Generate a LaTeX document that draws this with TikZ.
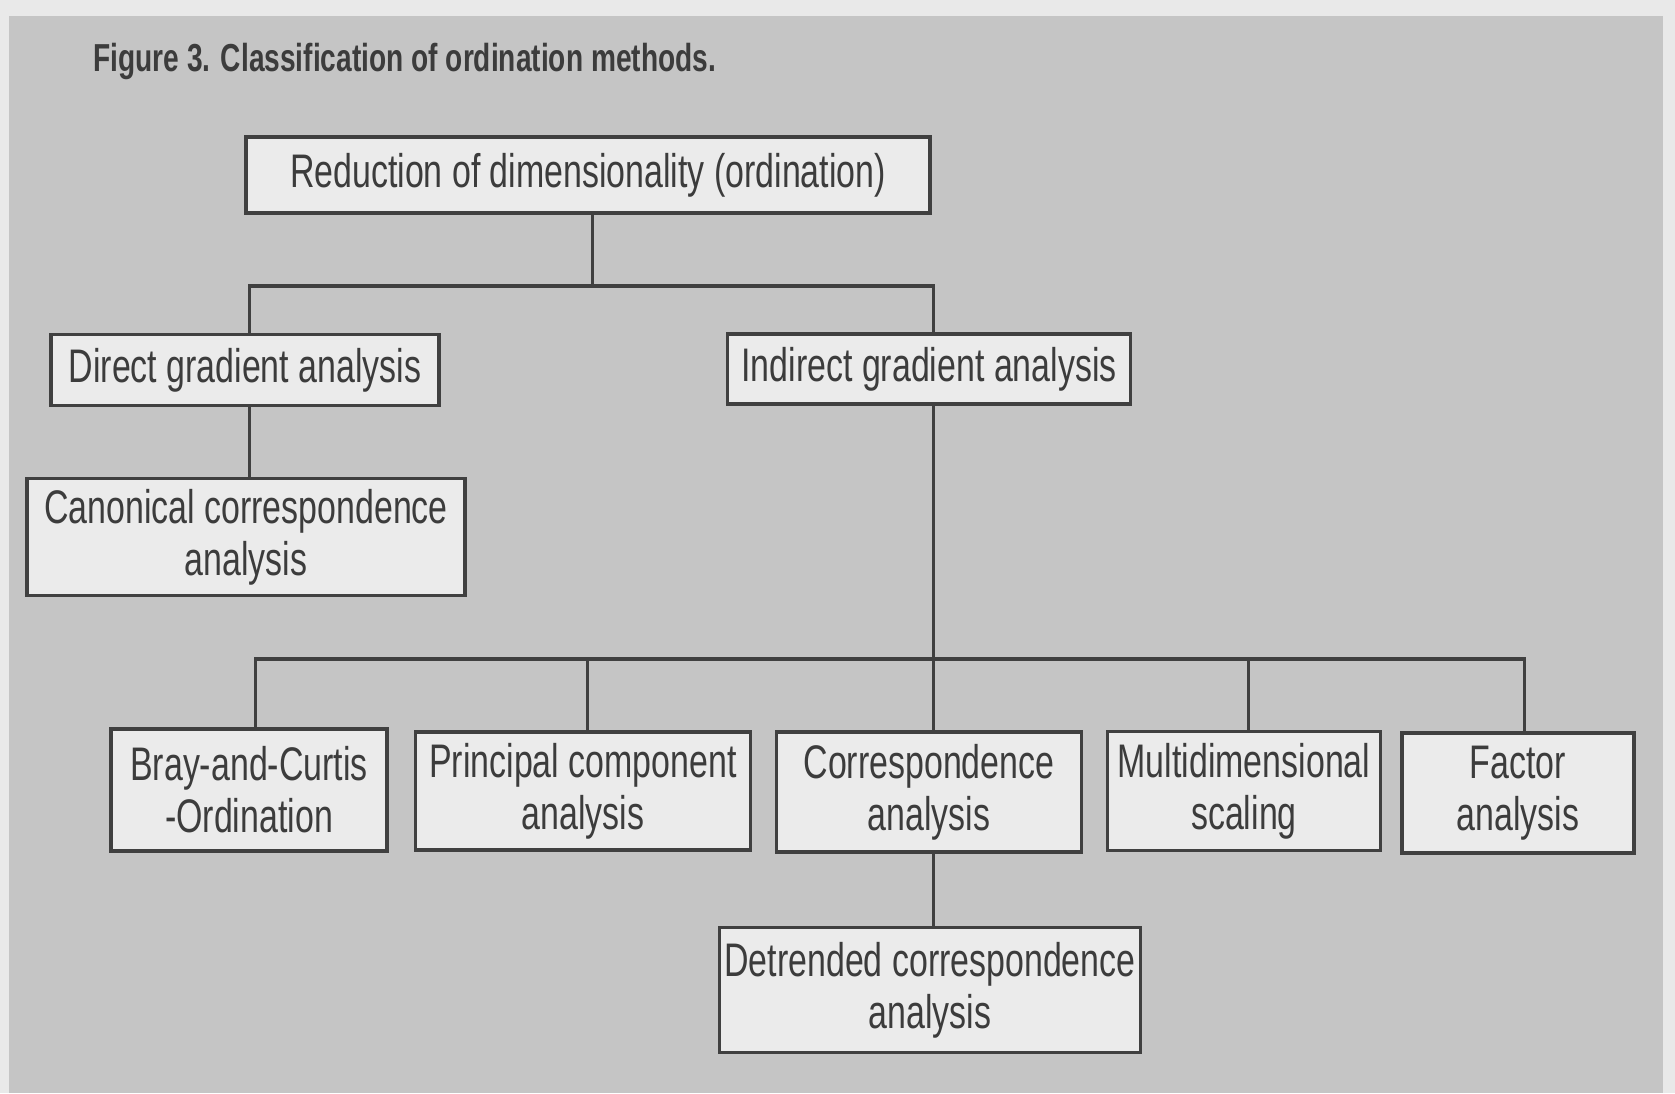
\documentclass[tikz,border=0pt]{standalone}
\usepackage{fontspec}
\setmainfont[FakeStretch=0.72]{Liberation Sans}
\usepackage{tikz}

\definecolor{paper}{HTML}{E9E9E9}
\definecolor{panel}{HTML}{C5C5C5}
\definecolor{boxfill}{HTML}{EBEBEB}
\definecolor{linegray}{HTML}{404040}
\definecolor{textgray}{HTML}{3C3C3C}

\begin{document}
\begin{tikzpicture}[x=0.01cm, y=-0.01cm,
    box/.style={draw=linegray, fill=boxfill, line width=1.05pt, inner sep=0pt,
        align=center, text=textgray, font=\fontsize{13.4}{14.8}\selectfont},
    link/.style={draw=linegray, line width=0.9pt}]
    % paper and grey panel
    \fill[paper] (0,0) rectangle (1675,1093);
    \fill[panel] (9,16) rectangle (1663,1093);
    \useasboundingbox (0,0) rectangle (1675,1093);

    % caption
    \node[anchor=west, text=textgray, font=\fontsize{11.1}{13}\selectfont\bfseries] (title) at (81,61)
        {Figure 3. Classification of ordination methods.};

    % top level
    \node[box, minimum width=6.83cm, minimum height=0.76cm] (root) at (588,175)
        {Reduction of dimensionality (ordination)};

    % second level
    \node[box, minimum width=3.88cm, minimum height=0.71cm] (direct) at (245,370)
        {Direct gradient analysis};
    \node[box, minimum width=4.03cm, minimum height=0.70cm] (indirect) at (929,369)
        {Indirect gradient analysis};
    \node[box, minimum width=4.38cm, minimum height=1.17cm] (canon) at (246,537)
        {Canonical correspondence\\analysis};

    % indirect methods
    \node[box, minimum width=2.76cm, minimum height=1.22cm] (bray) at (249,790)
        {Bray-and-Curtis\\-Ordination};
    \node[box, minimum width=3.35cm, minimum height=1.18cm] (pca) at (583,791)
        {Principal component\\analysis};
    \node[box, minimum width=3.05cm, minimum height=1.20cm] (corr) at (929,792)
        {Correspondence\\analysis};
    \node[box, minimum width=2.73cm, minimum height=1.19cm] (mds) at (1244,791)
        {Multidimensional\\scaling};
    \node[box, minimum width=2.32cm, minimum height=1.20cm] (factor) at (1518,793)
        {Factor\\analysis};
    \node[box, minimum width=4.21cm, minimum height=1.25cm] (detr) at (930,990)
        {Detrended correspondence\\analysis};

    % junctions (lines sit a little right of the box centres)
    \coordinate (bus1) at ([xshift=1.3pt]root.south |- 0,286);
    \coordinate (bus2) at ([xshift=1.3pt]corr.north |- 0,659);

    % connectors
    \draw[link] ([xshift=1.3pt]root.south) -- (bus1);
    \draw[link] ([xshift=1.3pt]direct.north) |- (bus1) -| ([xshift=1.3pt]indirect.north);
    \draw[link] ([xshift=1.3pt]direct.south) -- ([xshift=1.3pt]direct.south |- canon.north);
    \draw[link] ([xshift=1.3pt]indirect.south) -- ([xshift=1.3pt]corr.north);
    \draw[link] ([xshift=1.8pt]bray.north) |- (bus2) -| ([xshift=1.8pt]factor.north);
    \draw[link] ([xshift=1.3pt]pca.north) -- ([xshift=1.3pt]pca.north |- bus2);
    \draw[link] ([xshift=1.3pt]mds.north) -- ([xshift=1.3pt]mds.north |- bus2);
    \draw[link] ([xshift=1.3pt]corr.south) -- ([xshift=1.3pt]corr.south |- detr.north);
\end{tikzpicture}
\end{document}
